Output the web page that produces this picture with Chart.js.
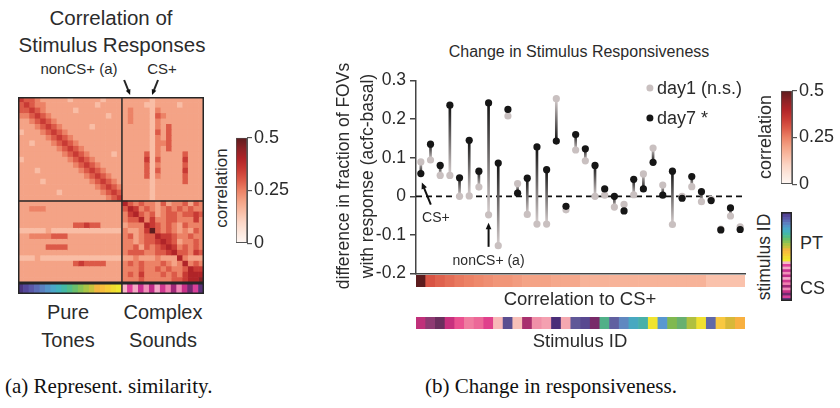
<!DOCTYPE html>
<html>
<head>
<meta charset="utf-8">
<title>Stimulus similarity and responsiveness</title>
<script src="https://cdn.jsdelivr.net/npm/chart.js@4.4.1/dist/chart.umd.min.js"></script>
<style>
  html, body { margin: 0; padding: 0; background: #fff; }
  #page { position: relative; width: 840px; height: 408px; overflow: hidden;
          font-family: "Liberation Sans", Arial, sans-serif; color: #2b2b2b; }
  #page canvas { position: absolute; }
  .lbl { position: absolute; white-space: nowrap; line-height: 1; transform: translate(-50%, -50%); }
  .lbl.left { transform: translate(0, -50%); }
  .lbl.rot { transform: translate(-50%, -50%) rotate(-90deg); }
  .lbl.cap { font-family: "Liberation Serif", serif; color: #111; }
  .dot { position: absolute; border-radius: 50%; transform: translate(-50%, -50%); }
</style>
</head>
<body>
<div id="page"></div>
<script>
// ---------- panel (a): stimuli + similarity matrix ----------
const stimNames = ['PT1','PT2','PT3','PT4','PT5','PT6','PT7','PT8','PT9','PT10','PT11','PT12','PT13','PT14','PT15','PT16','PT17','PT18','PT19',
                   'CS1','CS2','CS3','CS4','CS5','CS6','CS7','CS8','CS9','CS10','CS11','CS12','CS13','CS14','CS15'];
const ptColors = ['#4b3580','#54479a','#5a58a8','#5b6cb6','#5a80c0','#5494c8','#4aa6c8','#42b2bc','#44b8a4','#52bc88',
                  '#6abe6c','#88c256','#a8c446','#c6c23e','#f2b640','#f8be3c','#f6cc36','#f2dc30','#f0e82e'];
const csColors = ['#f8b8c8','#e0409a','#f4a8c4','#c83090','#f090b8','#c02c88','#f4a8c8','#d03890',
                  '#f080b0','#a02878','#f088b8','#c83088','#702a70','#d8409a','#5a3078'];

// one string per row, each char = correlation level in steps of 0.05 ('a' = 0.5)
// 19 pure tones | 15 complex sounds (spaces only for reading)
const heatRows = [
  '76654 44443 44444 3444 | 44444 34444 44444',
  '67655 44444 44443 4444 | 44443 34444 34444',
  '66765 44444 34444 4444 | 45444 35444 44444',
  '55676 54444 44444 4344 | 45444 36544 44444',
  '44567 65444 44444 4444 | 45444 35444 44444',
  '44456 76544 44434 4444 | 44444 35464 44444',
  '34445 67654 44444 4444 | 44444 36464 44444',
  '44444 56765 44444 4444 | 44444 35464 44444',
  '44344 45676 54444 4444 | 44444 35564 44444',
  '44444 44567 65444 4444 | 44444 35464 44444',
  '44444 44456 76544 4434 | 44446 35444 46444',
  '34444 44445 67654 4444 | 44447 36444 47444',
  '44444 44444 56765 4444 | 44446 35444 46444',
  '44434 44444 45676 5444 | 44446 36444 47444',
  '44444 44444 44567 6544 | 44446 35444 46444',
  '44443 44444 44456 7654 | 44444 34444 46444',
  '44444 44444 44445 6765 | 44444 34444 44444',
  '44444 44344 44444 5676 | 44444 34444 44444',
  '44444 44444 44444 4567 | 44444 34444 44444',
  '44444 44444 44444 4444 | 86565 54645 56465',
  '44555 44444 44444 4444 | 68756 54565 65655',
  '44444 44444 44444 4444 | 57865 64566 56676',
  '44444 44444 44444 4444 | 56685 75566 55575',
  '44444 44444 66766 4444 | 45558 76565 46555',
  '33333 43333 33333 3333 | 54457 a6565 45465',
  '44555 56664 44444 4444 | 56456 68776 55655',
  '44444 44444 44444 4444 | 55456 67876 45565',
  '44444 66664 44444 4444 | 55646 56787 56565',
  '44444 44444 44444 4444 | 56665 56678 66576',
  '33343 33333 33333 3333 | 44544 45444 85444',
  '44444 44444 67666 6444 | 56565 55654 58565',
  '44444 44444 44444 4444 | 55565 56565 56877',
  '44444 44444 44444 4444 | 56575 55656 57888',
  '44444 44444 44444 4444 | 55565 55556 67889'
];

// ---------- panel (b): stimuli sorted by correlation to CS+ ----------
const rankLabels = ['1','2','3','4','5','6','7','8','9','10','11','12','13','14','15','16','17',
                    '18','19','20','21','22','23','24','25','26','27','28','29','30','31','32','33','34'];
const day1 = [0.089, 0.094, 0.054, 0.054, 0.000, 0.001, 0.024, -0.048, -0.128, 0.208, 0.033, -0.047,
              -0.072, -0.072, 0.253, -0.035, 0.120, 0.092, 0.000, 0.003, -0.028, -0.021, 0.004, 0.058,
              0.125, 0.029, -0.073, 0.000, 0.025, -0.014, -0.008, -0.085, -0.051, -0.079];
const day7 = [0.059, 0.135, 0.080, 0.236, 0.048, 0.145, 0.065, 0.242, 0.086, 0.225, 0.008, 0.047,
              0.128, 0.069, 0.143, -0.026, 0.160, 0.123, 0.080, 0.019, 0.000, -0.038, 0.044, 0.019,
              0.088, 0.003, 0.065, -0.005, 0.051, 0.012, -0.011, -0.087, -0.030, -0.086];
const corrToCS = [1.0, 0.31, 0.29, 0.275, 0.26, 0.25, 0.24, 0.23, 0.22, 0.22, 0.21, 0.2, 0.2, 0.2, 0.19, 0.19, 0.19,
                  0.17, 0.17, 0.17, 0.17, 0.17, 0.17, 0.17, 0.17, 0.17, 0.17, 0.17, 0.17, 0.17, 0.14, 0.14, 0.14, 0.14];
const rankColors = ['#c0307a','#8e3a72','#6b2f5e','#c8307e','#ea5090','#f07ca0','#ec6898','#e0408c','#f8b8b8',
                    '#5a4e90','#f8c0b8','#a8306e','#f090a8','#f4a0b0','#4a2e78','#f4a8b0','#605898','#584890',
                    '#782a68','#50b088','#6060a0','#6088c0','#48a8c0','#48b0a8','#f0e430','#5898d0','#80b850',
                    '#68b070','#b0c040','#f0e030','#6068a8','#f8c840','#d8b838','#f8b040'];

const yTicks = [-0.2, -0.1, 0, 0.1, 0.2, 0.3];
const corrTicks = [0, 0.25, 0.5];
const corrStops = [[0, '#fff8f5'], [0.05, '#fde8de'], [0.1, '#fcd6c6'], [0.15, '#f9bda5'], [0.2, '#f4a386'],
                   [0.25, '#ec8266'], [0.3, '#dc5a48'], [0.35, '#c83a34'], [0.4, '#b02428'], [0.45, '#8a2226'], [0.5, '#5c1c1e']];

const FONT = '"Liberation Sans", Arial, sans-serif';
const INK = '#2b2b2b';
const page = document.getElementById('page');
const nPT = ptColors.length;
const stimColors = ptColors.concat(csColors);

const heatVals = heatRows.map(r => r.replace(/[\s|]/g, '').split('').map(c => c === 'a' ? 0.5 : Number(c) * 0.05));
heatVals.forEach((r, i) => { if (r.length !== stimNames.length) throw new Error('heat row ' + i + ' has ' + r.length); });

/* ================= HELPERS ================= */
function mk(x, y, w, h) {
  const c = document.createElement('canvas');
  c.width = w; c.height = h;
  c.style.left = x + 'px'; c.style.top = y + 'px';
  page.appendChild(c);
  return c;
}

function label(txt, x, y, size, cls = '') {
  const d = document.createElement('div');
  d.className = 'lbl ' + cls;
  d.style.left = x + 'px'; d.style.top = y + 'px'; d.style.fontSize = size + 'px';
  d.textContent = txt;
  page.appendChild(d);
}

function dot(x, y, r, color) {
  const d = document.createElement('div');
  d.className = 'dot';
  Object.assign(d.style, { left: x + 'px', top: y + 'px', width: 2 * r + 'px', height: 2 * r + 'px', background: color });
  page.appendChild(d);
}

function base(extra) {
  return Object.assign({
    responsive: false, animation: false, devicePixelRatio: 1,
    plugins: { legend: { display: false }, tooltip: { enabled: false } }
  }, extra);
}

function hex(c) { return [1, 3, 5].map(i => parseInt(c.slice(i, i + 2), 16)); }

function corrColor(v) {
  v = Math.max(0, Math.min(0.5, v));
  for (let i = 1; i < corrStops.length; i++) {
    if (v <= corrStops[i][0]) {
      const [v0, c0] = corrStops[i - 1], [v1, c1] = corrStops[i];
      const t = (v - v0) / (v1 - v0), a = hex(c0), b = hex(c1);
      return 'rgb(' + a.map((x, k) => Math.round(x + (b[k] - x) * t)).join(',') + ')';
    }
  }
  return corrStops[corrStops.length - 1][1];
}

function arrow(ctx, x1, y1, x2, y2, head) {
  const ang = Math.atan2(y2 - y1, x2 - x1);
  ctx.beginPath();
  ctx.moveTo(x1, y1);
  ctx.lineTo(x2 - Math.cos(ang) * head * 0.7, y2 - Math.sin(ang) * head * 0.7);
  ctx.stroke();
  ctx.beginPath();
  ctx.moveTo(x2, y2);
  ctx.lineTo(x2 - head * Math.cos(ang - 0.42), y2 - head * Math.sin(ang - 0.42));
  ctx.lineTo(x2 - head * Math.cos(ang + 0.42), y2 - head * Math.sin(ang + 0.42));
  ctx.closePath();
  ctx.fill();
}

function splitPx(scale, n) {
  if (scale.type === 'category') return (scale.getPixelForValue(n - 1) + scale.getPixelForValue(n)) / 2;
  return scale.getPixelForValue(n);
}

// frame + block dividers (+ optional arrows above columns)
const frame = {
  id: 'frame',
  afterDatasetsDraw(ch, args, o) {
    const { ctx, chartArea: a, scales: { x, y } } = ch;
    ctx.save();
    ctx.strokeStyle = '#262626'; ctx.fillStyle = '#111'; ctx.lineWidth = 1.5;
    ctx.beginPath();
    if (o.splitX != null) { const xs = splitPx(x, o.splitX); ctx.moveTo(xs, a.top); ctx.lineTo(xs, a.bottom); }
    if (o.splitY != null) { const ys = splitPx(y, o.splitY); ctx.moveTo(a.left, ys); ctx.lineTo(a.right, ys); }
    ctx.stroke();
    ctx.strokeRect(a.left + 0.75, a.top + 0.75, a.width - 1.5, a.height - 1.5);
    (o.arrows || []).forEach(ar => {
      const xc = x.getPixelForValue(ar.col + 0.5);
      ctx.lineWidth = 2;
      arrow(ctx, xc + ar.dx, a.top - 17, xc, a.top - 2, 6);
    });
    ctx.restore();
  }
};

function hStrip(x, y, w, h, labels, colors, frameOpts) {
  return new Chart(mk(x, y, w, h), {
    type: 'bar',
    data: { labels, datasets: [{ data: labels.map(() => 1), backgroundColor: colors, borderWidth: 0,
                                 barPercentage: 1, categoryPercentage: 1 }] },
    options: base({
      layout: { padding: 0 },
      scales: { x: { display: false }, y: { display: false, min: 0, max: 1 } },
      plugins: { legend: { display: false }, tooltip: { enabled: false }, frame: frameOpts || false }
    }),
    plugins: frameOpts ? [frame] : []
  });
}

function corrBar(x, y, w, h, size) {
  return new Chart(mk(x, y, w, h), {
    type: 'bar',
    data: { labels: [''], datasets: [{
      data: [[corrTicks[0], corrTicks[corrTicks.length - 1]]],
      backgroundColor: c => {
        const ch = c.chart;
        if (!ch.chartArea) return '#fff';
        const s = ch.scales.y;
        const g = ch.ctx.createLinearGradient(0, s.getPixelForValue(0), 0, s.getPixelForValue(0.5));
        corrStops.forEach(([v, col]) => g.addColorStop(v / 0.5, col));
        return g;
      },
      borderColor: '#555', borderWidth: 1, borderSkipped: false,
      barPercentage: 1, categoryPercentage: 1
    }] },
    options: base({
      layout: { padding: { top: 10, bottom: 10, left: 0, right: 0 } },
      scales: {
        x: { display: false },
        y: {
          position: 'right', min: 0, max: 0.5,
          afterBuildTicks: s => { s.ticks = corrTicks.map(v => ({ value: v })); },
          afterFit: s => { s.width = w - 11; },
          ticks: { font: { family: FONT, size }, color: INK, padding: 2, callback: v => String(v) },
          grid: { drawOnChartArea: false, tickLength: 5, color: '#555', lineWidth: 1.2 },
          border: { display: true, color: '#555', width: 1 }
        }
      }
    })
  });
}

/* ================= PANEL A ================= */
// similarity matrix: rows on y, one stacked dataset per column
new Chart(mk(18, 77, 186, 206), {
  type: 'bar',
  data: {
    labels: stimNames,
    datasets: stimNames.map((_, j) => ({
      data: heatVals.map(() => 1),
      backgroundColor: heatVals.map(row => corrColor(row[j])),
      borderWidth: 0, barPercentage: 1, categoryPercentage: 1
    }))
  },
  options: base({
    indexAxis: 'y',
    layout: { padding: { top: 20, left: 0, right: 0, bottom: 0 } },
    scales: {
      x: { display: false, stacked: true, min: 0, max: stimNames.length },
      y: { display: false, stacked: true }
    },
    plugins: { legend: { display: false }, tooltip: { enabled: false },
               frame: { splitX: nPT, splitY: nPT, arrows: [{ col: 20, dx: -6 }, { col: 24, dx: 6 }] } }
  }),
  plugins: [frame]
});

hStrip(18, 283, 186, 11, stimNames, stimColors, { splitX: nPT });
corrBar(236, 125, 56, 131, 18);

label('Correlation of', 111, 18, 20.5);
label('Stimulus Responses', 112, 45, 20.5);
label('nonCS+ (a)', 79, 68, 15);
label('CS+', 162, 68, 15);
label('Pure', 68, 312, 20);
label('Tones', 68, 340, 20);
label('Complex', 163, 312, 20);
label('Sounds', 163, 340, 20);
label('correlation', 221, 188, 17, 'rot');

/* ================= PANEL B ================= */
const marks = {
  id: 'marks',
  beforeDatasetsDraw(ch) {
    const { ctx, chartArea: a, scales: { y } } = ch;
    const y0 = y.getPixelForValue(0);
    ctx.save();
    ctx.setLineDash([6, 4]); ctx.lineWidth = 1.8; ctx.strokeStyle = '#111';
    ctx.beginPath(); ctx.moveTo(a.left, y0); ctx.lineTo(a.right, y0); ctx.stroke();
    ctx.restore();
  },
  afterDatasetsDraw(ch) {
    const { ctx, scales: { x, y } } = ch;
    ctx.save();
    ctx.strokeStyle = '#111'; ctx.fillStyle = '#111'; ctx.lineWidth = 2;
    ctx.font = '14px ' + FONT; ctx.textAlign = 'center'; ctx.textBaseline = 'middle';
    // CS+ (rank 1, day7 point)
    let px = x.getPixelForValue(0), py = y.getPixelForValue(day7[0]);
    arrow(ctx, px + 10, py + 31, px + 1, py + 9, 7);
    ctx.fillStyle = INK; ctx.fillText('CS+', px + 15, py + 45);
    // nonCS+ (a) (rank 8, day1 point)
    ctx.fillStyle = '#111';
    px = x.getPixelForValue(7); py = y.getPixelForValue(day1[7]);
    arrow(ctx, px, py + 32, px, py + 8, 7);
    ctx.fillStyle = INK; ctx.fillText('nonCS+ (a)', px, py + 46);
    ctx.restore();
  }
};

new Chart(mk(346, 66, 403, 222), {
  type: 'bar',
  data: {
    labels: rankLabels,
    datasets: [
      {
        type: 'bar', order: 3,
        data: day1.map((v, i) => [v, day7[i]]),
        barThickness: 2, borderWidth: 0,
        backgroundColor: c => {
          const ch = c.chart;
          if (!ch.chartArea || c.dataIndex == null) return '#777';
          const s = ch.scales.y;
          const a = s.getPixelForValue(day1[c.dataIndex]), b = s.getPixelForValue(day7[c.dataIndex]);
          if (Math.abs(a - b) < 1) return '#777';
          const g = ch.ctx.createLinearGradient(0, a, 0, b);
          g.addColorStop(0, '#d8d0d0'); g.addColorStop(1, '#111');
          return g;
        }
      },
      { type: 'line', order: 2, label: 'day1 (n.s.)', data: day1, showLine: false,
        pointRadius: 3.6, pointBackgroundColor: '#c9c0c0', pointBorderWidth: 0 },
      { type: 'line', order: 1, label: 'day7 *', data: day7, showLine: false,
        pointRadius: 3.6, pointBackgroundColor: '#161616', pointBorderWidth: 0 }
    ]
  },
  options: base({
    layout: { padding: { top: 11, right: 4, bottom: 4, left: 0 } },
    scales: {
      x: {
        offset: true,
        grid: { display: false },
        ticks: { display: false },
        border: { display: true, color: '#444', width: 1.5 },
        afterFit: s => { s.height = 0; }
      },
      y: {
        min: yTicks[0], max: yTicks[yTicks.length - 1],
        afterBuildTicks: s => { s.ticks = yTicks.map(v => ({ value: v })); },
        afterFit: s => { s.width = 70; },
        ticks: { font: { family: FONT, size: 17.5 }, color: INK, padding: 4,
                 callback: v => String(Math.round(v * 10) / 10) },
        grid: { drawOnChartArea: false, tickLength: 6, color: '#444', lineWidth: 1.5 },
        border: { display: true, color: '#444', width: 1.5 }
      }
    }
  }),
  plugins: [marks]
});

hStrip(416, 275, 329, 12, rankLabels, corrToCS.map(corrColor));
hStrip(416, 317, 329, 12, rankLabels, rankColors);

// right-hand keys
corrBar(781, 78, 56, 119, 18);
new Chart(mk(781, 212, 11, 89), {
  type: 'bar',
  data: { labels: stimNames, datasets: [{ data: stimNames.map(() => 1), backgroundColor: stimColors,
                                          borderWidth: 0, barPercentage: 1, categoryPercentage: 1 }] },
  options: base({
    indexAxis: 'y',
    layout: { padding: 0 },
    scales: { x: { display: false, min: 0, max: 1 }, y: { display: false } },
    plugins: { legend: { display: false }, tooltip: { enabled: false }, frame: {} }
  }),
  plugins: [frame]
});

label('Change in Stimulus Responsiveness', 579, 52, 16);
label('difference in fraction of FOVs', 344, 176, 17.5, 'rot');
label('with response (acfc-basal)', 368, 176, 17.5, 'rot');
dot(650, 88, 3.6, '#c9c0c0');
dot(650, 118, 3.6, '#161616');
label('day1 (n.s.)', 657, 88, 18, 'left');
label('day7 *', 657, 118, 18, 'left');
label('Correlation to CS+', 580, 299, 18.5);
label('Stimulus ID', 580, 341, 18.5);
label('correlation', 765, 137, 18, 'rot');
label('stimulus ID', 765, 257, 17.5, 'rot');
label('PT', 800, 243, 18, 'left');
label('CS', 800, 288, 18, 'left');

label('(a) Represent. similarity.', 5, 386, 21, 'left cap');
label('(b) Change in responsiveness.', 425, 386, 21, 'left cap');
</script>
</body>
</html>
